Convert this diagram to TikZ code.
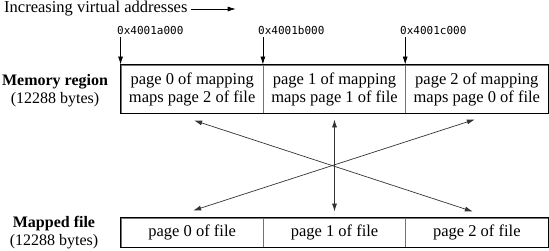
\documentclass[tikz,border=0pt]{standalone}
\usepackage{fontspec}
\setmainfont{Liberation Serif}
\setmonofont{DejaVu Sans Mono}
\usetikzlibrary{arrows.meta}
\tikzset{
	txt/.style = {inner sep=0pt, font=\fontsize{16.5}{18}\selectfont},
	pagebox/.style = {txt, align=center, draw=black!55, line width=0.9pt,
		minimum width=142.33pt},% one page of 4096 bytes
	mem_p/.style = {pagebox, minimum height=48pt},% page of the mapping
	file_p/.style = {pagebox, minimum height=29pt},% page of the file
	addr/.style = {anchor=west, inner sep=0pt,
		font=\ttfamily\fontsize{11}{13}\selectfont},% start address
	side/.style = {txt, align=center, font=\fontsize{16}{18}\selectfont},
	link/.style = {<->, black!80, line width=0.7pt}
}

\begin{document}
\begin{tikzpicture}[x=1pt,y=-1pt,>={Latex[length=8pt,width=5pt]}]
	\useasboundingbox (0,0) rectangle (549,250);
	\node [txt, anchor=west] (incr) at (4,9) {Increasing virtual addresses};
	\draw [->, line width=0.7pt] ([xshift=3pt]incr.east) -- ++(45,0);

	% memory region
	\node [mem_p] (mem0) at (192.17,89) {page 0 of mapping\\maps page 2 of file};
	\node [mem_p] (mem1) at (334.5,89) {page 1 of mapping\\maps page 1 of file};
	\node [mem_p] (mem2) at (476.83,89) {page 2 of mapping\\maps page 0 of file};
	\draw [line width=1.2pt] (mem0.north west) rectangle (mem2.south east);
	\node [side] (memlbl) at (55,91) {\textbf{Memory region}\\(12288 bytes)};

	\node [addr] (addr0) at (117,30) {0x4001a000};
	\node [addr] (addr1) at (258,30) {0x4001b000};
	\node [addr] (addr2) at (400,30) {0x4001c000};
	\draw [->, line width=0.7pt, shorten <=3pt] (addr0.south -| mem0.north west) -- (mem0.north west);
	\draw [->, line width=0.7pt, shorten <=3pt] (addr1.south -| mem1.north west) -- (mem1.north west);
	\draw [->, line width=0.7pt, shorten <=3pt] (addr2.south -| mem2.north west) -- (mem2.north west);

	% mapped file
	\node [file_p] (file0) at (192.17,232.5) {page 0 of file};
	\node [file_p] (file1) at (334.5,232.5) {page 1 of file};
	\node [file_p] (file2) at (476.83,232.5) {page 2 of file};
	\draw [line width=1.2pt] (file0.north west) rectangle (file2.south east);
	\node [side] (filelbl) at (54,233) {\textbf{Mapped file}\\(12288 bytes)};

	\draw [link] ([xshift=2pt,yshift=-7pt]mem0.south) -- ([xshift=-4pt,yshift=6pt]file2.north);
	\draw [link] ([yshift=-6pt]mem1.south) -- ([yshift=6pt]file1.north);
	\draw [link] ([xshift=-2pt,yshift=-6pt]mem2.south) -- ([xshift=1pt,yshift=7pt]file0.north);
\end{tikzpicture}
\end{document}
